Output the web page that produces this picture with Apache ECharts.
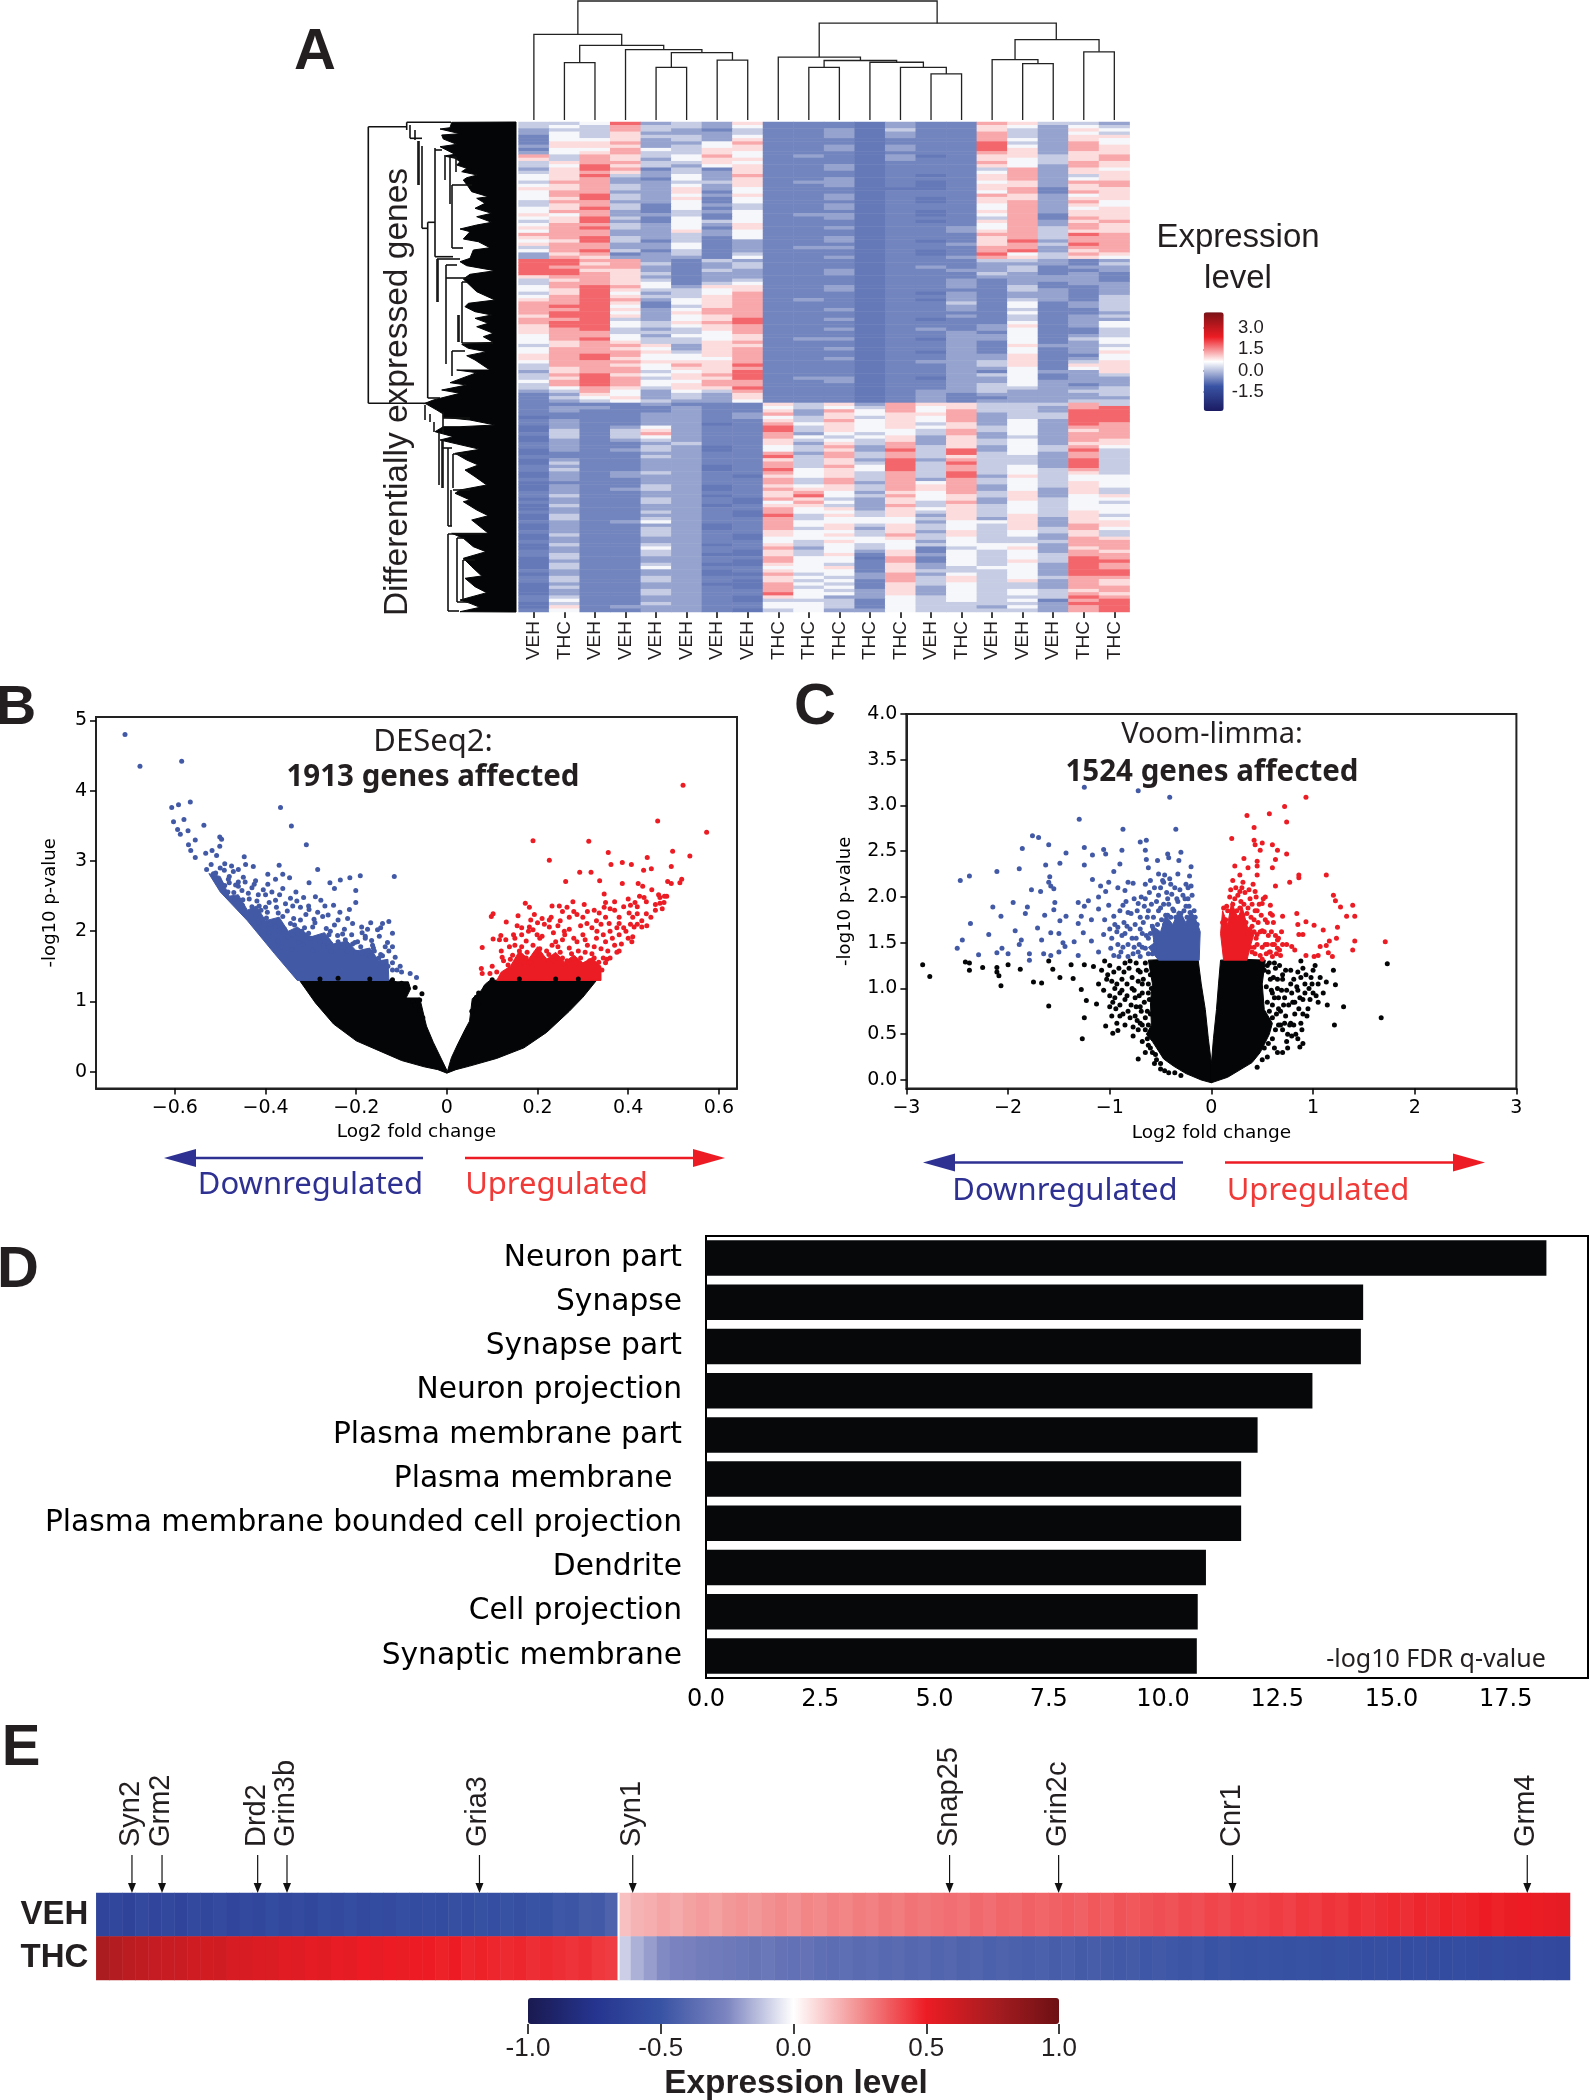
<!DOCTYPE html>
<html>
<head>
<meta charset="utf-8">
<title>THC expression figure</title>
<style>
  html, body { margin: 0; padding: 0; background: #fff; }
  #chart { width: 1590px; height: 2100px; }
</style>
</head>
<body>
<div id="chart"></div>
<script src="https://cdn.jsdelivr.net/npm/echarts@6/dist/echarts.min.js"></script>
<script>
// panel A
const sampleLabels = ['VEH','THC','VEH','VEH','VEH','VEH','VEH','VEH','THC','THC','THC','THC','THC','VEH','THC','VEH','VEH','VEH','THC','THC']
// expression value for each colour level used in heatRows
const heatLevels = [-0.72, -0.6, -0.3, 0.12, 0.55, 0.9, 1.3, 1.8]
// one string per gene block, one digit per sample
const heatRows = [
  '33472325111021165332','34363324111021154243','23363213112031153254','24352223112021163243',
  '14353324112021163255','14452325111011164254','15562246111011173264','25552345112021174265',
  '14464355112021175265','24563354111011165255','63653464121020155356','53652455111021154356',
  '35663354111011164365','34753245112011154265','25761315112011136254','35652325111011146255',
  '45732426111010156235','45621425112011156245','36622335122010145266','45632425112010155256',
  '55632524111000156155','46622514111011146165','46732425112011165245','45732514112010155255',
  '36622414111010156264','35631423112011146254','45731413112011146245','46621324111010156255',
  '54622314122010146155','45731414112011136165','35721434111010156256','46632425111011146265',
  '56732415112011246365','46622524111011256355','66622324111011166376','56732314112011156366',
  '45731312112010157266','56622412111011256376','36622412122011166266','46731312111010167256',
  '25612313111010174365','26522214112011265354','77662132111011133212','77563123111011122213',
  '76662123111012123122','77552132112011223112','77653122112011132121','56652122111011122221',
  '35653123111011212221','36654134111011212122','46764255112011213112','45753345112011113212',
  '35742346111010212212','46753356111011212213','56762456121010213213','66751456111011314123',
  '67741356111011214123','66752466112011213113','67742566111011114112','57752456111011213123',
  '66732457112010113122','67743567111011114124','57743456111011125124','56732356112012124113',
  '56633346111011214113','46642445111011224123','46743345122010224134','45653356111011214124',
  '35665255111011215223','46654256112011214124','46665356111010214125','56764456111011225114',
  '56754446112011225124','46665556111012235135','36654657111011235155','35664556111011224145',
  '25663457111011214225','36754567111011234123','35763557122010224122','46764466112011224222',
  '36764566111011234212','34653557111011233223','23642436111012232233','12542325111012122223',
  '13452325111012112222','12343224111012122233','11112111535265533363','12211211434364533267',
  '12111211526464633277','11112212625455623377','01112212435354623377','12112211536454624277',
  '12112201645453524276','02124211735454534266','03135211735443634256','13136211624343624266',
  '03134211643452523266','02123211534352534265','12112311525362534255','12113201436263524364',
  '02123201435273724373','01112211626363734263','11113211736363533263','02112211535272633273',
  '03112211635373733273','12112201636473634273','13112201745473634363','02123211645363734353',
  '02122210545363725344','12112211636362634344','01112211636264634354','02113201545365624354',
  '02123201655365624253','12112211564254635253','13112201574364535245','02113210653254525344',
  '12113210464253624343','03112201553263534344','02112211645254534344','12113210644353534354',
  '03112210735352535353','03113211634443525254','12124211644442445255','02112201645353435265',
  '02113201635253435364','12113211544352534353','03113210545363534253','02112210444453433265',
  '12112211435442433366','03113201534343444266','02114211624341345256','12113210534251434265',
  '13113200535152434366','03112211644061434376','02112210644161435377','03113200543152434276',
  '03114211445152344276','12112201544153334277','02112200634262434277','13113211543263534366',
  '13113210534163535265','02112200643153433265','03112210634152433266','02113211643252434356',
  '02113211744252434365','13112210542243433376','14112210333143434167','03113211443143333277',
  '05122211443143324267','14112210342243333267'
]
// sample dendrogram: left x, left height, right x, right height, join height
const sampleTree = [
  [1.5,0,2.5,0,132],[4.5,0,5.5,0,121],[6.5,0,7.5,0,138],[5,121,7,138,155],[3.5,0,6,155,162],
  [2,132,4.75,162,172],[0.5,0,3.375,172,197],[13.5,0,14.5,0,106],[12.5,0,14,106,121],
  [11.5,0,13.25,121,133],[9.5,0,10.5,0,121],[10,121,12.375,133,137],[8.5,0,11.19,137,145],
  [16.5,0,17.5,0,130],[15.5,0,17,130,139],[18.5,0,19.5,0,157],[16.25,139,19,157,185],
  [9.84,145,17.6,185,223],[1.94,197,13.7,223,274]
]
// gene dendrogram: solid part outline (distance, gene rank) and visible branches
const geneMass = [
  [156,0],[91.7,0.3],[90,5.7],[80,7],[100,11.7],[81.7,13],[83.3,17],[96.7,22.3],[80,24.7],[95,32.3],[84,34],[95,36.3],[100,39.7],
  [96.7,43],[106.7,46.3],[101.7,49.7],[117.3,53],[106.7,55.7],[103.3,58],[108.3,64.7],[111.7,69.7],[128.3,74.7],[116.7,76.3],
  [125,81.3],[115,86.3],[131.7,91.3],[116.7,94.7],[131.7,100.3],[116.7,103],[100,107],[110,109.7],[103.3,117],[118.3,119.7],
  [130,125.7],[113.3,128],[110,136.3],[100,139.7],[106.7,143.7],[135,148.7],[110,152.3],[103.3,157],[116.7,169.7],[135,178],
  [108.3,181.3],[105,184.7],[115,189.7],[131.7,193],[115,196.3],[128.3,201.3],[116.7,204.7],[133.3,211.3],[123.3,214.7],
  [133.3,220.3],[101.7,222.3],[108.3,226.3],[126.7,229.7],[106.7,233.7],[115,238],[130,248],[96.7,248],[116.7,250.7],[90,260.7],
  [106.7,263],[81.7,268],[100,271.3],[73.3,278],[65,281.3],[76.7,288],[83.3,292],[83.3,295.3],[110,298],[135,303],[100,304.7],
  [83.3,304.7],[75,309.7],[93.3,314.7],[80,318],[120,327.3],[95,331.3],[106.7,338],[118.3,343],[105,348],[115,354.7],[126.7,363],
  [100,368],[95,371.3],[110,378],[103.3,379.7],[116.7,388],[128.3,393.7],[111.7,398],[128.3,411.3],[91.7,411.3],[103.3,416.3],
  [113.3,424.7],[126,429.7],[103.3,436.3],[111.7,444.7],[121.7,454],[105,456.3],[115,464.7],[126.7,470.7],[100,478],[110,481.3],
  [120,485.3],[100,489.7],[156,490]
]
const geneBranches = [
  [8.3,4.7,46.7,4.7],[8.3,4.7,8.3,281.3],[8.3,281.3,63,281.3],[46.7,0.3,46.7,8],[46.7,0.3,91,0.3],[50,3,50,16.3],
  [50,16.3,62,16.3],[55,8,55,18],[58,19,58,63],[59,19,59,63],[62,24,62,106.3],[62,106.3,67.7,106.3],[67.7,100.3,67.7,276],
  [67.7,100.3,75,100.3],[75,26,75,134.7],[75,28,82,28],[85,35,85,58],[90,35,90,82],[92,63,92,126],[92,63,112,63],
  [92,126,103,126],[92,35,96,35],[96,35,96,50],[75,134.7,93,134.7],[77,137,77,180],[78,137,78,180],[77,137,100,137],
  [86,143,86,242],[86,143,97,143],[86,156,110,156],[102,160,102,221],[102,160,107,160],[102,221,133,221],[98,193,98,220],
  [99,193,99,220],[92,229,92,254],[92,229,105,229],[67.7,276,80,276],[63,281.3,70,281.3],[65,283,65,298],[70,292,70,300],
  [74,300,74,310],[83,290,83,312],[83,296,110,296],[79,310,79,363],[82,318,82,366],[83,318,83,366],[82,326,92,326],
  [88,326,88,404],[88,404,92,404],[93,332,93,366],[93,332,107,332],[93,368,110,368],[91,368,91,404],[88,412,88,489],
  [88,412,122,412],[88,489,99,489],[97,416,97,480],[97,416,105,416],[103,438,103,478],[103,438,115,438],[97,480,108,480]
]
const colorbarATicks = [3, 1.5, 0, -1.5]

// panel B
const ticksBX = [-0.6, -0.4, -0.2, 0, 0.2, 0.4, 0.6]
const ticksBY = [0, 1, 2, 3, 4, 5]
const blackLeftB = [[-0.325,1.3],[-0.27,1.31],[-0.2,1.3],[-0.13,1.31],[-0.11,1.28],[-0.085,1.28],[-0.08,1.18],[-0.09,1.05],[-0.06,1.05],[-0.055,0.92],[-0.05,0.78],[-0.045,0.65],[-0.03,0.42],[-0.012,0.18],[0,0.02],[0,-0.02],[-0.02,0.03],[-0.05,0.07],[-0.1,0.16],[-0.15,0.3],[-0.2,0.44],[-0.25,0.68],[-0.29,0.98]]
const blackRightB = [[0.095,1.3],[0.15,1.31],[0.22,1.29],[0.28,1.31],[0.33,1.3],[0.3,1.06],[0.27,0.86],[0.22,0.56],[0.17,0.34],[0.11,0.19],[0.05,0.08],[0.02,0.03],[0,-0.02],[0.01,0.2],[0.023,0.38],[0.04,0.6],[0.05,0.72],[0.056,1.04],[0.075,1.15],[0.085,1.25]]
const blueMassB = [[-0.33,1.3],[-0.38,1.68],[-0.44,2.15],[-0.5,2.56],[-0.525,2.82],[-0.5,2.78],[-0.48,2.5],[-0.46,2.52],[-0.44,2.3],[-0.42,2.36],[-0.4,2.15],[-0.37,2.2],[-0.35,2.0],[-0.33,2.06],[-0.3,1.92],[-0.27,1.98],[-0.25,1.82],[-0.22,1.86],[-0.2,1.72],[-0.17,1.76],[-0.15,1.58],[-0.13,1.6],[-0.128,1.3]]
const redMassB = [[0.11,1.3],[0.12,1.42],[0.14,1.5],[0.16,1.72],[0.18,1.6],[0.2,1.78],[0.22,1.6],[0.24,1.7],[0.26,1.56],[0.28,1.66],[0.3,1.55],[0.32,1.62],[0.34,1.5],[0.34,1.3]]
const blackDotsB = [[-0.1,1.26],[-0.09,1.22],[-0.07,1.2],[-0.055,1.11],[-0.06,1.02],[-0.075,1.0],[-0.07,0.95],[-0.06,0.88],[-0.053,0.77],[-0.28,1.32],[-0.24,1.33],[-0.17,1.32],[-0.12,1.31],[0.07,1.12],[0.065,1.06],[0.06,0.96],[0.055,0.86],[0.07,0.98],[0.085,1.2],[0.1,1.31],[0.16,1.32],[0.24,1.32],[0.29,1.32]]
const blueDotsB = [[-0.71,4.8],[-0.677,4.35],[-0.585,4.42],[-0.607,3.76],[-0.592,3.8],[-0.566,3.84],[-0.603,3.56],[-0.58,3.59],[-0.536,3.51],[-0.367,3.76],[-0.343,3.5],[-0.31,3.23],[-0.594,3.45],[-0.588,3.38],[-0.571,3.43],[-0.555,3.3],[-0.57,3.23],[-0.565,3.15],[-0.555,3.05],[-0.532,3.11],[-0.518,3.15],[-0.508,3.08],[-0.501,3.34],[-0.497,3.31],[-0.501,3.21],[-0.447,3.06],[-0.444,2.95],[-0.427,2.92],[-0.37,2.94],[-0.285,2.88],[-0.395,2.81],[-0.362,2.81],[-0.378,2.74],[-0.347,2.76],[-0.304,2.69],[-0.258,2.69],[-0.235,2.73],[-0.214,2.76],[-0.191,2.79],[-0.116,2.78],[-0.248,2.61],[-0.201,2.58],[-0.333,2.56],[-0.29,2.49],[-0.201,2.41],[-0.215,2.31],[-0.269,2.36],[-0.285,2.27],[-0.323,2.34],[-0.34,2.36],[-0.362,2.61],[-0.395,2.67],[-0.422,2.72],[-0.425,2.67],[-0.449,2.77],[-0.471,2.85],[-0.482,2.74],[-0.491,2.87],[-0.515,2.82],[-0.46,2.64],[-0.438,2.54],[-0.416,2.52],[-0.4,2.52],[-0.378,2.44],[-0.356,2.39],[-0.305,2.36],[-0.274,2.21],[-0.24,2.16],[-0.23,1.96],[-0.18,1.93],[-0.142,2.11],[-0.153,2.02],[-0.12,1.97],[-0.175,2.03],[-0.136,1.78],[-0.12,1.78],[-0.114,1.63],[-0.103,1.5],[-0.12,1.45],[-0.081,1.4],[-0.067,1.34],[-0.142,1.65],[-0.164,1.8],[-0.197,1.85],[-0.219,1.8],[-0.257,2],[-0.296,2.06],[-0.323,2.16],[-0.345,2.11],[-0.372,2.26],[-0.4,2.34],[-0.3,1.9],[-0.28,1.85],[-0.26,1.78],[-0.24,1.85],[-0.22,1.72],[-0.2,1.7],[-0.19,1.78],[-0.17,1.65],[-0.16,1.72],[-0.15,1.62],[-0.14,1.55],[-0.13,1.5],[-0.12,1.55],[-0.11,1.45],[-0.1,1.42],[-0.26,1.95],[-0.21,1.95],[-0.18,1.9],[-0.32,2],[-0.34,1.95],[-0.37,2],[-0.39,2.1],[-0.41,2.3],[-0.43,2.35],[-0.45,2.45],[-0.47,2.55],[-0.49,2.65],[-0.46,2.7],[-0.48,2.78],[-0.51,2.75],[-0.53,2.88],[-0.52,2.95],[-0.5,2.9],[-0.365,1.78],[-0.342,1.74],[-0.318,1.81],[-0.296,1.73],[-0.272,1.79],[-0.255,1.71],[-0.233,1.77],[-0.208,1.82],[-0.186,1.69],[-0.162,1.76],[-0.146,1.67],[-0.128,1.72],[-0.372,1.86],[-0.351,1.92],[-0.327,1.84],[-0.305,1.97],[-0.283,1.91],[-0.262,1.86],[-0.241,1.94],[-0.224,1.88],[-0.203,1.84],[-0.187,1.98],[-0.166,1.87],[-0.149,1.93],[-0.131,1.84],[-0.392,1.98],[-0.378,2.07],[-0.358,2.03],[-0.336,2.09],[-0.314,2.05],[-0.291,2.12],[-0.266,2.04],[-0.248,2.09],[-0.226,2.03],[-0.208,2.11],[-0.188,2.06],[-0.168,2.12],[-0.146,2.05],[-0.128,2.14],[-0.415,2.12],[-0.398,2.19],[-0.381,2.14],[-0.362,2.21],[-0.338,2.18],[-0.311,2.24],[-0.293,2.17],[-0.262,2.23],[-0.236,2.27],[-0.219,2.18],[-0.432,2.24],[-0.414,2.36],[-0.396,2.27],[-0.376,2.34],[-0.352,2.29],[-0.331,2.43],[-0.304,2.31],[-0.278,2.44],[-0.25,2.37],[-0.451,2.37],[-0.436,2.46],[-0.419,2.43],[-0.392,2.41],[-0.369,2.52],[-0.345,2.47],[-0.316,2.48],[-0.468,2.46],[-0.452,2.58],[-0.43,2.62],[-0.405,2.59],[-0.386,2.56],[-0.483,2.56],[-0.466,2.66],[-0.445,2.7],[-0.498,2.68],[-0.48,2.69],[-0.51,2.83],[-0.49,2.96],[-0.475,2.93],[-0.46,2.88]]
const redDotsB = [[0.521,4.08],[0.465,3.57],[0.573,3.41],[0.19,3.29],[0.313,3.28],[0.498,3.14],[0.356,3.12],[0.536,3.07],[0.442,3.05],[0.226,3.01],[0.362,2.95],[0.387,2.98],[0.407,2.95],[0.495,2.92],[0.451,2.89],[0.434,2.87],[0.293,2.84],[0.318,2.84],[0.262,2.71],[0.337,2.72],[0.387,2.68],[0.422,2.68],[0.432,2.64],[0.487,2.71],[0.495,2.68],[0.518,2.74],[0.514,2.69],[0.452,2.59],[0.467,2.52],[0.485,2.5],[0.347,2.53],[0.4,2.46],[0.435,2.48],[0.479,2.41],[0.415,2.41],[0.35,2.41],[0.173,2.4],[0.278,2.42],[0.303,2.38],[0.232,2.36],[0.248,2.36],[0.182,2.34],[0.265,2.34],[0.102,2.25],[0.098,2.21],[0.157,2.22],[0.193,2.24],[0.131,2.13],[0.226,2.16],[0.21,2.18],[0.287,2.24],[0.336,2.26],[0.347,2.34],[0.155,2.08],[0.182,2.06],[0.147,1.95],[0.119,1.94],[0.102,1.89],[0.078,1.77],[0.116,1.88],[0.199,1.95],[0.226,2.06],[0.259,2],[0.309,2.11],[0.331,2],[0.358,2.11],[0.38,2.11],[0.402,2.26],[0.413,2.06],[0.441,2.08],[0.408,1.85],[0.375,1.7],[0.353,1.6],[0.342,1.45],[0.287,1.85],[0.232,1.8],[0.177,1.7],[0.138,1.78],[0.122,1.63],[0.1,1.5],[0.076,1.47],[0.078,1.4],[0.095,1.4],[0.14,1.6],[0.16,1.72],[0.17,1.55],[0.19,1.8],[0.2,1.66],[0.21,1.93],[0.22,1.72],[0.24,1.85],[0.25,1.7],[0.26,1.95],[0.27,1.76],[0.28,1.6],[0.29,1.72],[0.3,1.95],[0.31,1.8],[0.32,1.68],[0.33,1.9],[0.34,1.75],[0.35,1.85],[0.36,2],[0.37,1.8],[0.38,1.95],[0.39,2.05],[0.4,1.9],[0.41,2.2],[0.42,2.1],[0.43,2.06],[0.38,1.72],[0.35,1.55],[0.36,1.62],[0.15,1.9],[0.18,2],[0.23,2.2],[0.25,2.15],[0.3,2.2],[0.33,2.15],[0.35,2.2],[0.37,2.3],[0.38,2.2],[0.39,2.35],[0.44,2.25],[0.46,2.3],[0.47,2.4],[0.48,2.5],[0.11,1.42],[0.125,1.58],[0.135,1.52],[0.145,1.66],[0.155,1.58],[0.165,1.78],[0.175,1.62],[0.185,1.55],[0.195,1.68],[0.205,1.75],[0.215,1.6],[0.225,1.67],[0.235,1.58],[0.245,1.78],[0.255,1.62],[0.265,1.58],[0.275,1.68],[0.285,1.55],[0.295,1.62],[0.305,1.7],[0.315,1.58],[0.325,1.62],[0.335,1.56],[0.345,1.62],[0.12,1.72],[0.13,1.88],[0.15,1.8],[0.165,1.95],[0.175,1.86],[0.19,2.02],[0.205,1.9],[0.215,2.1],[0.235,1.98],[0.245,2.08],[0.255,1.88],[0.27,2.03],[0.28,1.9],[0.295,2.08],[0.305,1.88],[0.32,2.05],[0.325,1.78],[0.34,2.1],[0.345,1.95],[0.355,1.72],[0.365,1.9],[0.375,2.05],[0.385,1.82],[0.395,2],[0.405,2.1],[0.41,1.92],[0.42,2.25],[0.43,2.15],[0.45,2.2],[0.46,2.38],[0.42,2.35],[0.405,2.37],[0.37,2.42],[0.36,2.32],[0.325,2.3],[0.31,2.28],[0.28,2.28],[0.27,2.2],[0.255,2.28],[0.2,2.12],[0.185,2.16],[0.165,2.05],[0.475,2.32],[0.47,2.48],[0.44,2.42],[0.425,2.5]]

// panel C
const ticksCX = [-3, -2, -1, 0, 1, 2, 3]
const ticksCY = [0, 0.5, 1, 1.5, 2, 2.5, 3, 3.5, 4]
const blackLeftC = [[-0.62,1.31],[-0.4,1.32],[-0.13,1.31],[-0.1,1.05],[-0.06,0.77],[-0.03,0.45],[0,0.18],[0,-0.03],[-0.1,0],[-0.25,0.07],[-0.37,0.15],[-0.47,0.23],[-0.58,0.42],[-0.64,0.5],[-0.59,0.6],[-0.6,0.85],[-0.58,1.05]]
const blackRightC = [[0.09,1.31],[0.3,1.32],[0.53,1.31],[0.5,1.05],[0.52,0.77],[0.6,0.62],[0.57,0.5],[0.48,0.3],[0.4,0.19],[0.16,0.03],[0,-0.03],[0,0.18],[0.02,0.45],[0.05,0.77],[0.07,1.05]]
const blueMassC = [[-0.52,1.31],[-0.62,1.45],[-0.56,1.5],[-0.6,1.7],[-0.5,1.62],[-0.45,1.8],[-0.38,1.7],[-0.32,1.85],[-0.25,1.72],[-0.2,1.85],[-0.14,1.72],[-0.11,1.62],[-0.12,1.31]]
const redMassC = [[0.12,1.31],[0.09,1.6],[0.11,1.85],[0.16,1.7],[0.2,1.95],[0.26,1.75],[0.3,1.9],[0.36,1.65],[0.42,1.6],[0.38,1.45],[0.35,1.31]]
const blackDotsC = [[-2.84,1.26],[-2.77,1.13],[-2.42,1.29],[-2.38,1.28],[-2.38,1.2],[-2.25,1.23],[-2.11,1.23],[-2.11,1.18],[-2.09,1.14],[-2.07,1.03],[-2,1.26],[-1.88,1.21],[-1.75,1.07],[-1.67,1.06],[-1.6,0.81],[-1.56,1.21],[-1.6,1.3],[-1.49,1.12],[-1.38,1.26],[-1.36,1.11],[-1.25,1.26],[-1.28,0.99],[-1.23,0.87],[-1.25,0.68],[-1.27,0.45],[-1.13,0.83],[-1.11,1.05],[-1.16,1.24],[-1.04,0.59],[-0.97,0.51],[-0.92,0.54],[-0.72,0.23],[-0.65,0.3],[-0.56,0.18],[1.67,0.68],[1.21,0.6],[1.3,0.8],[1.73,1.27],[1.14,0.82],[1.22,1.04],[1.2,1.2],[1.13,1.07],[0.87,0.36],[0.9,0.4],[0.65,0.3],[-1.05,1.3],[-1.02,1.15],[-0.98,1.08],[-0.95,1.0],[-1.0,0.92],[-0.97,0.85],[-0.94,0.78],[-0.9,0.95],[-0.88,1.1],[-0.85,0.88],[-0.82,0.75],[-0.9,0.7],[-0.78,1.0],[-0.75,0.9],[-0.72,1.2],[-0.75,0.7],[-0.7,0.8],[-0.68,1.05],[-0.65,1.28],[-0.65,0.68],[-0.62,0.95],[-0.85,1.28],[-0.8,1.3],[-0.72,0.55],[-0.68,0.6],[-0.77,0.48],[-0.62,0.38],[-0.55,0.28],[-0.5,0.12],[-0.3,0.05],[0.55,1.25],[0.58,1.1],[0.6,0.95],[0.62,1.28],[0.65,1.0],[0.66,0.78],[0.7,1.15],[0.68,0.6],[0.72,0.9],[0.73,0.7],[0.75,0.5],[0.78,1.05],[0.8,0.85],[0.78,0.62],[0.75,0.35],[0.82,0.72],[0.85,0.98],[0.85,1.18],[0.88,1.3],[0.9,0.88],[0.92,1.05],[0.88,0.62],[0.9,0.72],[0.95,0.78],[0.98,1.12],[1.0,0.95],[1.02,1.25],[1.05,1.05],[1.05,0.85],[0.85,0.45],[0.6,0.45],[0.55,0.25],[0.45,0.14],[-1.08,1.2],[-1.06,0.98],[-1.03,1.1],[-1.0,1.25],[-1.0,0.8],[-0.98,0.7],[-0.96,1.18],[-0.95,0.9],[-0.93,1.05],[-0.93,0.62],[-0.91,1.22],[-0.9,0.82],[-0.88,0.98],[-0.87,0.72],[-0.86,1.18],[-0.85,0.6],[-0.83,1.05],[-0.83,0.92],[-0.81,1.22],[-0.8,0.68],[-0.79,0.82],[-0.78,1.12],[-0.77,0.58],[-0.76,0.98],[-0.74,1.28],[-0.74,0.8],[-0.73,0.65],[-0.72,1.08],[-0.71,0.92],[-0.7,0.62],[-0.7,1.18],[-0.69,0.75],[-0.68,0.95],[-0.67,1.1],[-0.66,0.85],[-0.65,0.55],[-0.64,1.2],[-0.63,0.75],[-0.62,1.05],[-0.62,0.6],[-0.61,0.88],[-0.6,1.15],[-0.6,0.72],[-0.59,1.0],[-0.68,0.42],[-0.63,0.45],[-0.6,0.35],[-0.58,0.3],[-0.54,0.22],[-0.5,0.18],[-0.46,0.1],[-0.42,0.08],[-0.36,0.08],[0.52,1.2],[0.54,1.02],[0.55,0.85],[0.56,1.18],[0.57,0.75],[0.57,1.28],[0.59,0.98],[0.6,0.82],[0.6,0.68],[0.61,1.12],[0.62,0.9],[0.63,1.22],[0.63,0.55],[0.64,0.72],[0.65,1.1],[0.66,0.9],[0.66,0.6],[0.67,1.25],[0.68,0.75],[0.69,0.98],[0.7,0.55],[0.7,1.1],[0.71,0.82],[0.72,0.62],[0.73,1.2],[0.74,0.98],[0.74,0.42],[0.76,0.82],[0.77,0.6],[0.78,1.2],[0.79,0.95],[0.79,0.48],[0.81,0.6],[0.81,1.1],[0.82,0.85],[0.83,0.5],[0.84,1.02],[0.86,0.78],[0.87,0.9],[0.88,1.12],[0.89,0.55],[0.9,1.22],[0.92,0.95],[0.93,1.15],[0.94,0.7],[0.96,1.0],[0.97,0.88],[0.99,1.05],[1.0,1.2],[1.03,0.92],[1.07,1.12],[1.1,0.95],[0.62,0.35],[0.7,0.3],[0.5,0.22],[0.52,0.35],[0.56,0.4]]
const blueDotsC = [[-1.25,3.2],[-0.72,3.16],[-0.41,3.09],[-1.3,2.85],[-0.87,2.74],[-0.35,2.74],[-1.76,2.67],[-1.7,2.65],[-1.6,2.57],[-1.86,2.53],[-1.25,2.54],[-0.7,2.6],[-0.64,2.62],[-1.43,2.48],[-1.06,2.52],[-1.04,2.47],[-1.17,2.46],[-0.88,2.51],[-0.65,2.51],[-0.64,2.41],[-0.53,2.4],[-0.43,2.47],[-0.42,2.43],[-0.3,2.49],[-0.32,2.4],[-0.9,2.36],[-1.25,2.35],[-1.49,2.37],[-1.63,2.35],[-1.89,2.31],[-2.11,2.28],[-2.38,2.23],[-2.47,2.18],[-1.59,2.22],[-1.6,2.16],[-1.58,2.12],[-1.55,2.09],[-1.77,2.08],[-1.68,2.06],[-1.17,2.19],[-0.96,2.28],[-0.62,2.32],[-0.52,2.25],[-0.46,2.24],[-0.33,2.25],[-0.2,2.33],[-0.215,2.23],[-0.82,2.16],[-0.6,2.18],[-0.65,2.14],[-0.47,2.16],[-0.4,2.14],[-0.25,2.14],[-0.2,2.12],[-1.01,2.16],[-1.09,2.12],[-0.92,2.1],[-0.77,2.15],[-0.85,2.07],[-1.04,2.06],[-1.11,2],[-1.21,1.96],[-1.31,1.94],[-1.25,1.9],[-1.95,1.94],[-1.54,1.94],[-2.15,1.89],[-1.81,1.89],[-1.83,1.82],[-2.07,1.79],[-1.55,1.86],[-1.64,1.8],[-1.43,1.79],[-1.49,1.74],[-2.37,1.71],[-1.71,1.66],[-1.93,1.63],[-1.58,1.61],[-1.5,1.6],[-2.19,1.59],[-2.45,1.53],[-2.5,1.44],[-1.87,1.53],[-1.89,1.48],[-1.67,1.53],[-2.06,1.44],[-2.11,1.39],[-2.29,1.37],[-2,1.38],[-1.79,1.38],[-1.79,1.31],[-1.65,1.38],[-1.58,1.36],[-1.46,1.5],[-1.5,1.4],[-1.44,1.46],[-1.35,1.51],[-1.26,1.61],[-1.31,1.71],[-1.18,1.75],[-1.28,1.79],[-1.11,1.87],[-1.01,1.91],[-0.96,1.79],[-0.87,1.91],[-0.82,1.83],[-0.72,1.93],[-0.65,1.98],[-0.52,2.02],[-0.43,1.98],[-0.33,1.95],[-0.23,1.98],[-0.21,1.83],[-0.92,1.67],[-0.85,1.6],[-1.06,1.59],[-1.18,1.52],[-1.31,1.36],[-1.11,1.4],[-0.96,1.36],[-0.89,1.4],[-0.99,1.44],[-0.72,1.4],[-0.65,1.44],[-0.75,1.7],[-0.7,1.78],[-0.62,1.85],[-0.58,1.68],[-0.5,1.88],[-0.45,1.8],[-0.38,1.87],[-0.3,1.82],[-0.25,1.9],[-0.18,1.78],[-0.78,1.55],[-0.68,1.6],[-0.62,1.55],[-0.82,1.35],[-0.98,1.55],[-0.95,1.7],[-0.92,1.48],[-0.9,1.85],[-0.88,1.58],[-0.86,1.72],[-0.84,1.95],[-0.82,1.48],[-0.8,1.65],[-0.79,1.82],[-0.77,1.38],[-0.76,1.98],[-0.74,1.55],[-0.73,1.85],[-0.71,1.48],[-0.7,1.65],[-0.69,2.0],[-0.67,1.72],[-0.66,1.9],[-0.64,1.58],[-0.63,1.78],[-0.62,1.38],[-0.61,2.05],[-0.6,1.6],[-0.59,1.92],[-0.57,1.78],[-0.56,2.1],[-0.55,1.52],[-0.54,1.95],[-0.53,1.7],[-0.52,1.85],[-0.5,2.1],[-0.49,1.75],[-0.48,2.18],[-0.47,1.92],[-0.46,1.7],[-0.44,2.05],[-0.43,1.8],[-0.42,1.92],[-0.41,2.2],[-0.4,1.78],[-0.39,2.03],[-0.37,1.85],[-0.36,2.1],[-0.35,1.78],[-0.34,1.98],[-0.32,1.82],[-0.31,2.08],[-0.3,1.78],[-0.28,2.02],[-0.27,1.85],[-0.26,1.98],[-0.24,1.78],[-0.23,2.1],[-0.22,1.9],[-0.2,1.78],[-0.19,2.02],[-0.17,1.85],[-0.16,1.78],[-0.14,1.7],[-1.05,1.75],[-1.0,1.65],[-0.93,1.62],[-0.91,1.35],[-0.87,1.45],[-0.83,1.68],[-0.76,1.45],[-0.68,1.45],[-0.58,1.38],[-0.56,1.45],[-0.7,1.35]]
const redDotsC = [[0.93,3.09],[0.72,2.99],[0.57,2.91],[0.35,2.89],[0.74,2.82],[0.42,2.76],[0.2,2.64],[0.42,2.62],[0.5,2.59],[0.43,2.57],[0.6,2.57],[0.48,2.51],[0.65,2.51],[0.74,2.47],[0.32,2.42],[0.45,2.39],[0.63,2.41],[0.6,2.32],[0.23,2.34],[0.36,2.32],[0.45,2.34],[0.28,2.24],[0.45,2.24],[0.86,2.24],[0.86,2.21],[1.13,2.24],[0.77,2.16],[0.21,2.18],[0.31,2.16],[0.41,2.14],[0.63,2.12],[0.19,2.08],[0.28,2.06],[0.43,2.06],[0.53,2],[1.2,2.02],[1.22,1.96],[1.39,1.91],[1.27,1.89],[1.33,1.79],[1.41,1.79],[0.84,1.82],[0.85,1.7],[0.93,1.73],[1.01,1.69],[1.1,1.64],[1.24,1.67],[0.86,1.59],[0.9,1.59],[1.23,1.55],[1.16,1.52],[1.41,1.52],[1.71,1.51],[1.39,1.42],[1.13,1.47],[1.07,1.46],[0.74,1.48],[0.79,1.46],[0.82,1.42],[0.93,1.36],[1.01,1.35],[1.05,1.36],[1.15,1.39],[1.19,1.35],[0.68,1.36],[0.58,1.4],[0.6,1.48],[0.65,1.53],[0.7,1.79],[0.6,1.8],[0.53,1.75],[0.5,1.63],[0.45,1.59],[0.53,1.48],[0.48,1.36],[0.65,1.44],[0.58,1.91],[0.5,1.93],[0.38,1.98],[0.23,1.98],[0.15,1.9],[0.2,1.85],[0.28,1.88],[0.35,1.82],[0.42,1.75],[0.45,1.85],[0.4,1.68],[0.42,1.45],[0.11,1.72],[0.12,1.88],[0.14,1.75],[0.16,1.85],[0.18,2],[0.2,1.75],[0.21,1.92],[0.23,1.8],[0.24,2.1],[0.25,1.85],[0.26,2.02],[0.27,1.78],[0.29,1.95],[0.3,2.1],[0.31,1.8],[0.32,1.92],[0.33,2.05],[0.34,1.72],[0.36,1.88],[0.37,2.08],[0.38,1.65],[0.39,1.78],[0.4,1.92],[0.42,1.62],[0.43,1.85],[0.44,2],[0.45,1.48],[0.46,1.72],[0.47,1.92],[0.48,1.62],[0.49,1.8],[0.5,1.45],[0.51,1.98],[0.52,1.62],[0.54,1.38],[0.55,1.72],[0.56,1.58],[0.57,1.4],[0.58,1.82],[0.59,1.62],[0.6,1.35],[0.61,1.72],[0.62,1.48],[0.63,1.58],[0.64,1.38],[0.66,1.55],[0.67,1.42],[0.69,1.62],[0.7,1.48],[0.43,1.38],[0.4,1.4],[0.44,1.55],[0.5,1.32],[0.55,1.48],[0.38,1.45],[0.36,1.6]]

// panel D
const termNames = ['Neuron part','Synapse','Synapse part','Neuron projection','Plasma membrane part','Plasma membrane ','Plasma membrane bounded cell projection','Dendrite','Cell projection','Synaptic membrane']
const termValues = [18.39, 14.38, 14.33, 13.27, 12.07, 11.71, 11.71, 10.94, 10.76, 10.74]
const ticksD = [0, 2.5, 5, 7.5, 10, 12.5, 15, 17.5]

// panel E
const stripRows = ['THC', 'VEH']
const vehDownGenes = [-0.62,-0.6,-0.63,-0.58,-0.61,-0.59,-0.62,-0.58,-0.6,-0.57,-0.61,-0.58,-0.6,-0.56,-0.59,-0.57,-0.6,-0.56,-0.58,-0.55,-0.58,-0.56,-0.57,-0.54,-0.56,-0.55,-0.56,-0.53,-0.55,-0.52,-0.54,-0.51,-0.53,-0.5,-0.51,-0.48,-0.49,-0.46,-0.47,-0.42]
const thcDownGenes = [0.74,0.71,0.68,0.67,0.65,0.64,0.63,0.61,0.6,0.61,0.58,0.58,0.56,0.57,0.54,0.55,0.53,0.54,0.52,0.53,0.5,0.52,0.5,0.51,0.5,0.5,0.49,0.5,0.48,0.49,0.48,0.47,0.48,0.46,0.47,0.46,0.45,0.46,0.44,0.43]
const vehUpGenes = [0.14,0.17,0.18,0.2,0.19,0.21,0.22,0.21,0.23,0.24,0.23,0.25,0.26,0.25,0.27,0.26,0.28,0.27,0.29,0.28,0.3,0.29,0.31,0.3,0.31,0.32,0.31,0.33,0.32,0.34,0.33,0.35,0.34,0.35,0.36,0.35,0.37,0.36,0.38,0.37,0.38,0.39,0.38,0.4,0.39,0.41,0.4,0.42,0.41,0.42,0.43,0.42,0.44,0.43,0.45,0.44,0.46,0.45,0.46,0.47,0.46,0.48,0.47,0.49,0.48,0.49,0.5,0.49,0.51,0.5,0.51,0.52,0.53]
const thcUpGenes = [-0.1,-0.16,-0.2,-0.24,-0.26,-0.27,-0.29,-0.3,-0.31,-0.32,-0.33,-0.32,-0.34,-0.35,-0.34,-0.36,-0.37,-0.36,-0.38,-0.37,-0.39,-0.38,-0.4,-0.39,-0.41,-0.4,-0.42,-0.41,-0.43,-0.42,-0.43,-0.44,-0.43,-0.45,-0.44,-0.46,-0.45,-0.46,-0.47,-0.46,-0.48,-0.47,-0.48,-0.49,-0.48,-0.5,-0.49,-0.5,-0.51,-0.5,-0.51,-0.52,-0.51,-0.52,-0.53,-0.52,-0.53,-0.54,-0.53,-0.54,-0.55,-0.54,-0.55,-0.56,-0.55,-0.56,-0.57,-0.56,-0.57,-0.58,-0.57,-0.58,-0.59]
const geneNames = ['Syn2','Grm2','Drd2','Grin3b','Gria3','Syn1','Snap25','Grin2c','Cnr1','Grm4']
// position along the strip, percent of genes
const genePositions = [2.42, 4.46, 10.95, 12.94, 26.0, 36.4, 57.9, 65.3, 77.1, 97.1]
const colorbarETicks = [-1, -0.5, 0, 0.5, 1]

const heatColorsA = ['#1b1b62', '#3953a4', '#ffffff', '#ed1c24', '#7a1216']
const heatColorsE = ['#1a1a50', '#25348f', '#3953a4', '#7d85c0', '#ffffff', '#f28f90', '#ed1c24', '#a81c20', '#6d1014']
const SANS = 'Liberation Sans'
const MPL = 'DejaVu Sans'
const MYRIAD = 'Noto Sans'
const INK = '#231f20'

const minusFmt = v => String(v).replace('-', '\u2212')
const oneDecimal = v => v.toFixed(1)

// polygon drawn through the grid scales
function polySeries(grid, pts, color) {
  return {
    type: 'custom', xAxisIndex: grid, yAxisIndex: grid, silent: true, clip: false, data: [0], z: 2,
    renderItem(params, api) {
      return { type: 'polygon', shape: { points: pts.map(p => api.coord(p)) }, style: { fill: color, stroke: color, lineWidth: 1 } }
    }
  }
}
function dotSeries(grid, pts, color, z) {
  return {
    type: 'scatter', xAxisIndex: grid, yAxisIndex: grid, data: pts, symbolSize: 5, silent: true, z: z,
    itemStyle: { color: color, opacity: 1 }
  }
}
function volcanoAxes(grid, ticksX, ticksY, minX, maxX, minY, maxY, yFmt, gapX, gapY) {
  const tick = { show: true, length: 6, lineStyle: { color: '#000', width: 1.5 } }
  const labelStyle = { fontFamily: MPL, fontSize: 19, color: '#000' }
  return {
    x: {
      type: 'value', gridIndex: grid, min: minX, max: maxX, splitLine: { show: false },
      name: 'Log2 fold change', nameLocation: 'middle', nameGap: gapX,
      nameTextStyle: { fontFamily: MPL, fontSize: 18.5, color: '#000' },
      axisLine: { onZero: false, lineStyle: { color: '#222', width: 2 } },
      axisTick: { ...tick, customValues: ticksX },
      axisLabel: { ...labelStyle, margin: 10, customValues: ticksX, formatter: minusFmt, hideOverlap: false }
    },
    y: {
      type: 'value', gridIndex: grid, min: minY, max: maxY, splitLine: { show: false },
      name: '-log10 p-value', nameLocation: 'middle', nameGap: gapY,
      nameTextStyle: { fontFamily: MPL, fontSize: 18, color: '#000' },
      axisLine: { onZero: false, lineStyle: { color: '#222', width: 2 } },
      axisTick: { ...tick, customValues: ticksY },
      axisLabel: { ...labelStyle, margin: 9, customValues: ticksY, formatter: yFmt, hideOverlap: false }
    }
  }
}
function hiddenAxis(grid, min, max, inverse) {
  return { type: 'value', gridIndex: grid, min: min, max: max, inverse: !!inverse, show: false, splitLine: { show: false } }
}
function textEl(text, x, y, font, color, extra) {
  return {
    type: 'text', x: x, y: y, z: 50, silent: true, ...extra,
    style: { text: text, font: font, fill: color || INK, textAlign: 'center', textVerticalAlign: 'middle' }
  }
}
function arrowEls(tailX, tipX, y, color) {
  const dir = tipX > tailX ? 1 : -1
  const baseX = tipX - dir * 32
  return [
    { type: 'line', z: 50, silent: true, shape: { x1: tailX, y1: y, x2: baseX, y2: y }, style: { stroke: color, lineWidth: 2.5 } },
    { type: 'polygon', z: 50, silent: true, shape: { points: [[tipX, y], [baseX, y - 9], [baseX, y + 9]] }, style: { fill: color } }
  ]
}

const heatData = []
heatRows.forEach((row, r) => {
  row.split('').forEach((d, c) => heatData.push([c, r, heatLevels[+d]]))
})
const stripVeh = vehDownGenes.concat(vehUpGenes)
const stripThc = thcDownGenes.concat(thcUpGenes)
const stripData = []
stripVeh.forEach((v, c) => stripData.push([c, 1, v]))
stripThc.forEach((v, c) => stripData.push([c, 0, v]))

const axB = volcanoAxes(4, ticksBX, ticksBY, -0.774, 0.64, -0.24, 5.05, v => String(v), 34, 37)
const axC = volcanoAxes(5, ticksCX, ticksCY, -3, 3, -0.094, 4, oneDecimal, 35, 52)

const gridBoxes = [
  { left: 518.6, top: 122, width: 611, height: 490 },
  { left: 518.6, top: 1, width: 611, height: 119 },
  { left: 360, top: 122, width: 156, height: 490 },
  { left: 1203.7, top: 312.3, width: 20, height: 98.7 },
  { left: 96, top: 717, width: 641, height: 371.6, show: true, borderColor: '#222', borderWidth: 2 },
  { left: 906.4, top: 714, width: 610, height: 374.6, show: true, borderColor: '#222', borderWidth: 2 },
  { left: 706, top: 1236, width: 882, height: 442, show: true, borderColor: '#000', borderWidth: 2 },
  { left: 96.3, top: 1893, width: 1473.7, height: 87 },
  { left: 96.3, top: 1855, width: 1473.7, height: 38 },
  { left: 528, top: 1998, width: 531, height: 26 }
]

const option = {
  animation: false,
  backgroundColor: '#fff',
  grid: gridBoxes.map(g => ({ ...g, outerBoundsMode: 'none' })),
  xAxis: [
    {
      type: 'category', gridIndex: 0, data: sampleLabels, position: 'bottom',
      axisLine: { show: false }, axisTick: { show: true, alignWithLabel: true, length: 6, lineStyle: { color: '#000', width: 1.5 } },
      axisLabel: { rotate: 90, fontFamily: SANS, fontSize: 19, color: INK, margin: 9, interval: 0 }
    },
    hiddenAxis(1, 0, 20),
    hiddenAxis(2, 0, 156),
    hiddenAxis(3, 0, 1),
    axB.x,
    axC.x,
    {
      type: 'value', gridIndex: 6, min: 0, max: 19.3, splitLine: { show: false },
      axisLine: { lineStyle: { color: '#000', width: 2 } },
      axisTick: { length: 7, customValues: ticksD, lineStyle: { color: '#000', width: 1.5 } },
      axisLabel: { fontFamily: MPL, fontSize: 24, color: '#000', margin: 10, customValues: ticksD, formatter: oneDecimal, hideOverlap: false }
    },
    {
      type: 'category', gridIndex: 7, data: stripVeh.map((v, i) => i), show: false, splitLine: { show: false }
    },
    hiddenAxis(8, 0, 100),
    {
      type: 'value', gridIndex: 9, min: -1, max: 1, position: 'bottom', splitLine: { show: false },
      axisLine: { show: false },
      axisTick: { length: 10, customValues: colorbarETicks, lineStyle: { color: '#000', width: 1.5 } },
      axisLabel: { fontFamily: SANS, fontSize: 26, color: INK, margin: 12, customValues: colorbarETicks, formatter: oneDecimal, hideOverlap: false }
    }
  ],
  yAxis: [
    {
      type: 'category', gridIndex: 0, inverse: true, data: heatRows.map((d, i) => i), show: false, splitLine: { show: false }
    },
    hiddenAxis(1, 0, 274),
    hiddenAxis(2, 0, 490, true),
    {
      type: 'value', gridIndex: 3, min: -2.84, max: 4.1, position: 'right', splitLine: { show: false },
      axisLine: { show: false },
      axisTick: { length: 5, customValues: colorbarATicks, lineStyle: { color: '#000', width: 2 } },
      axisLabel: { fontFamily: SANS, fontSize: 18.5, color: INK, align: 'right', margin: 40, customValues: colorbarATicks, formatter: oneDecimal, hideOverlap: false }
    },
    axB.y,
    axC.y,
    {
      type: 'category', gridIndex: 6, inverse: true, data: termNames,
      axisLine: { lineStyle: { color: '#000', width: 2 } },
      axisTick: { length: 6, alignWithLabel: true, lineStyle: { color: '#000', width: 1.5 } },
      axisLabel: { fontFamily: MPL, fontSize: 29.7, color: '#000', margin: 24, interval: 0, padding: [5, 0, 0, 0] }
    },
    {
      type: 'category', gridIndex: 7, data: stripRows, splitLine: { show: false },
      axisLine: { show: false }, axisTick: { show: false },
      axisLabel: { fontFamily: SANS, fontSize: 33, fontWeight: 'bold', color: INK, margin: 8, padding: [4, 0, 0, 0] }
    },
    hiddenAxis(8, 0, 1),
    hiddenAxis(9, 0, 1)
  ],
  visualMap: [
    {
      type: 'continuous', seriesIndex: 0, min: -2.84, max: 4.1, inRange: { color: heatColorsA },
      left: 1203.7, top: 312.3, itemWidth: 20, itemHeight: 98.7, padding: 0, calculable: false, hoverLink: false, orient: 'vertical'
    },
    {
      type: 'continuous', seriesIndex: 1, min: -1, max: 1, inRange: { color: heatColorsE },
      left: 528, top: 1998, itemWidth: 26, itemHeight: 531, padding: 0, calculable: false, hoverLink: false, orient: 'horizontal'
    }
  ],
  series: [
    { type: 'heatmap', xAxisIndex: 0, yAxisIndex: 0, data: heatData, silent: true, progressive: 0 },
    { type: 'heatmap', xAxisIndex: 7, yAxisIndex: 7, data: stripData, silent: true, progressive: 0 },
    {
      // sample dendrogram
      type: 'custom', xAxisIndex: 1, yAxisIndex: 1, silent: true, clip: false, data: sampleTree,
      renderItem(params, api) {
        const t = sampleTree[params.dataIndex]
        const pts = [[t[0], t[1]], [t[0], t[4]], [t[2], t[4]], [t[2], t[3]]].map(p => api.coord(p))
        return { type: 'polyline', shape: { points: pts }, style: { fill: 'none', stroke: '#222', lineWidth: 1.3 } }
      }
    },
    polySeries(2, geneMass, '#040506'),
    {
      // gene dendrogram branches
      type: 'custom', xAxisIndex: 2, yAxisIndex: 2, silent: true, clip: false, z: 3, data: geneBranches,
      renderItem(params, api) {
        const s = geneBranches[params.dataIndex]
        const a = api.coord([s[0], s[1]])
        const b = api.coord([s[2], s[3]])
        return { type: 'line', shape: { x1: a[0], y1: a[1], x2: b[0], y2: b[1] }, style: { stroke: '#111', lineWidth: 1.6 } }
      }
    },
    polySeries(4, blackLeftB, '#040506'),
    polySeries(4, blackRightB, '#040506'),
    polySeries(4, blueMassB, '#4259a6'),
    polySeries(4, redMassB, '#ec1c24'),
    dotSeries(4, blackDotsB, '#040506', 3),
    dotSeries(4, blueDotsB, '#4259a6', 3),
    dotSeries(4, redDotsB, '#ec1c24', 3),
    polySeries(5, blackLeftC, '#040506'),
    polySeries(5, blackRightC, '#040506'),
    polySeries(5, blueMassC, '#4259a6'),
    polySeries(5, redMassC, '#ec1c24'),
    dotSeries(5, blackDotsC, '#040506', 3),
    dotSeries(5, blueDotsC, '#4259a6', 3),
    dotSeries(5, redDotsC, '#ec1c24', 3),
    {
      type: 'bar', xAxisIndex: 6, yAxisIndex: 6, data: termValues, barWidth: 35.5, silent: true,
      itemStyle: { color: '#07080a' }
    },
    {
      // gene markers above the strip
      type: 'custom', xAxisIndex: 8, yAxisIndex: 8, silent: true, clip: false, data: genePositions,
      renderItem(params, api) {
        const x = genePositions[params.dataIndex]
        const top = api.coord([x, 1])
        const tip = api.coord([x, 0])
        const neck = api.coord([x, 0.26])
        return {
          type: 'group',
          children: [
            { type: 'line', shape: { x1: top[0], y1: top[1], x2: neck[0], y2: neck[1] }, style: { stroke: '#111', lineWidth: 1.2 } },
            { type: 'polygon', shape: { points: [tip, [neck[0] - 4, neck[1]], [neck[0] + 4, neck[1]]] }, style: { fill: '#111' } },
            {
              type: 'text', x: top[0] - 1, y: top[1] - 8, rotation: Math.PI / 2,
              style: { text: geneNames[params.dataIndex], font: '29px "' + SANS + '"', fill: INK, textAlign: 'left', textVerticalAlign: 'middle' }
            }
          ]
        }
      }
    }
  ],
  graphic: [
    textEl('A', 315, 53, 'bold 58px "' + SANS + '"'),
    textEl('B', 16, 709, 'bold 56px "' + SANS + '"'),
    textEl('C', 815, 708, 'bold 58px "' + SANS + '"'),
    textEl('D', 18, 1271, 'bold 58px "' + SANS + '"'),
    textEl('E', 21, 1749, 'bold 58px "' + SANS + '"'),
    textEl('Differentially expressed genes', 398, 392, '33.5px "' + SANS + '"', INK, { rotation: Math.PI / 2 }),
    textEl('Expression', 1238, 238, '33px "' + SANS + '"'),
    textEl('level', 1238, 279, '33px "' + SANS + '"'),
    textEl('DESeq2:', 433, 742, '31px "' + MYRIAD + '"'),
    textEl('1913 genes affected', 433, 778, 'bold 29.5px "' + MYRIAD + '"'),
    textEl('Voom-limma:', 1212, 735, '29px "' + MYRIAD + '"'),
    textEl('1524 genes affected', 1212, 773, 'bold 29.5px "' + MYRIAD + '"'),
    textEl('Downregulated', 310.5, 1185, '31px "' + MYRIAD + '"', '#2e3192'),
    textEl('Upregulated', 556.5, 1185, '31px "' + MYRIAD + '"', '#ef3a38'),
    textEl('Downregulated', 1065, 1191, '31px "' + MYRIAD + '"', '#2e3192'),
    textEl('Upregulated', 1318, 1191, '31px "' + MYRIAD + '"', '#ef3a38'),
    textEl('-log10 FDR q-value', 1436, 1660, '25px "' + MYRIAD + '"'),
    textEl('Expression level', 796, 2084, 'bold 33.4px "' + SANS + '"'),
    ...arrowEls(423, 164, 1158, '#2e3192'),
    ...arrowEls(465, 725, 1158, '#ed1c24'),
    ...arrowEls(1183, 923, 1162.5, '#2e3192'),
    ...arrowEls(1225, 1485, 1162.5, '#ed1c24'),
    { type: 'line', z: 40, silent: true, shape: { x1: 618.6, y1: 1893, x2: 618.6, y2: 1980 }, style: { stroke: '#fff', lineWidth: 2 } }
  ]
}

const mChart = echarts.init(document.getElementById('chart'), null, { renderer: 'canvas' })
mChart.setOption(option)
</script>
</body>
</html>
